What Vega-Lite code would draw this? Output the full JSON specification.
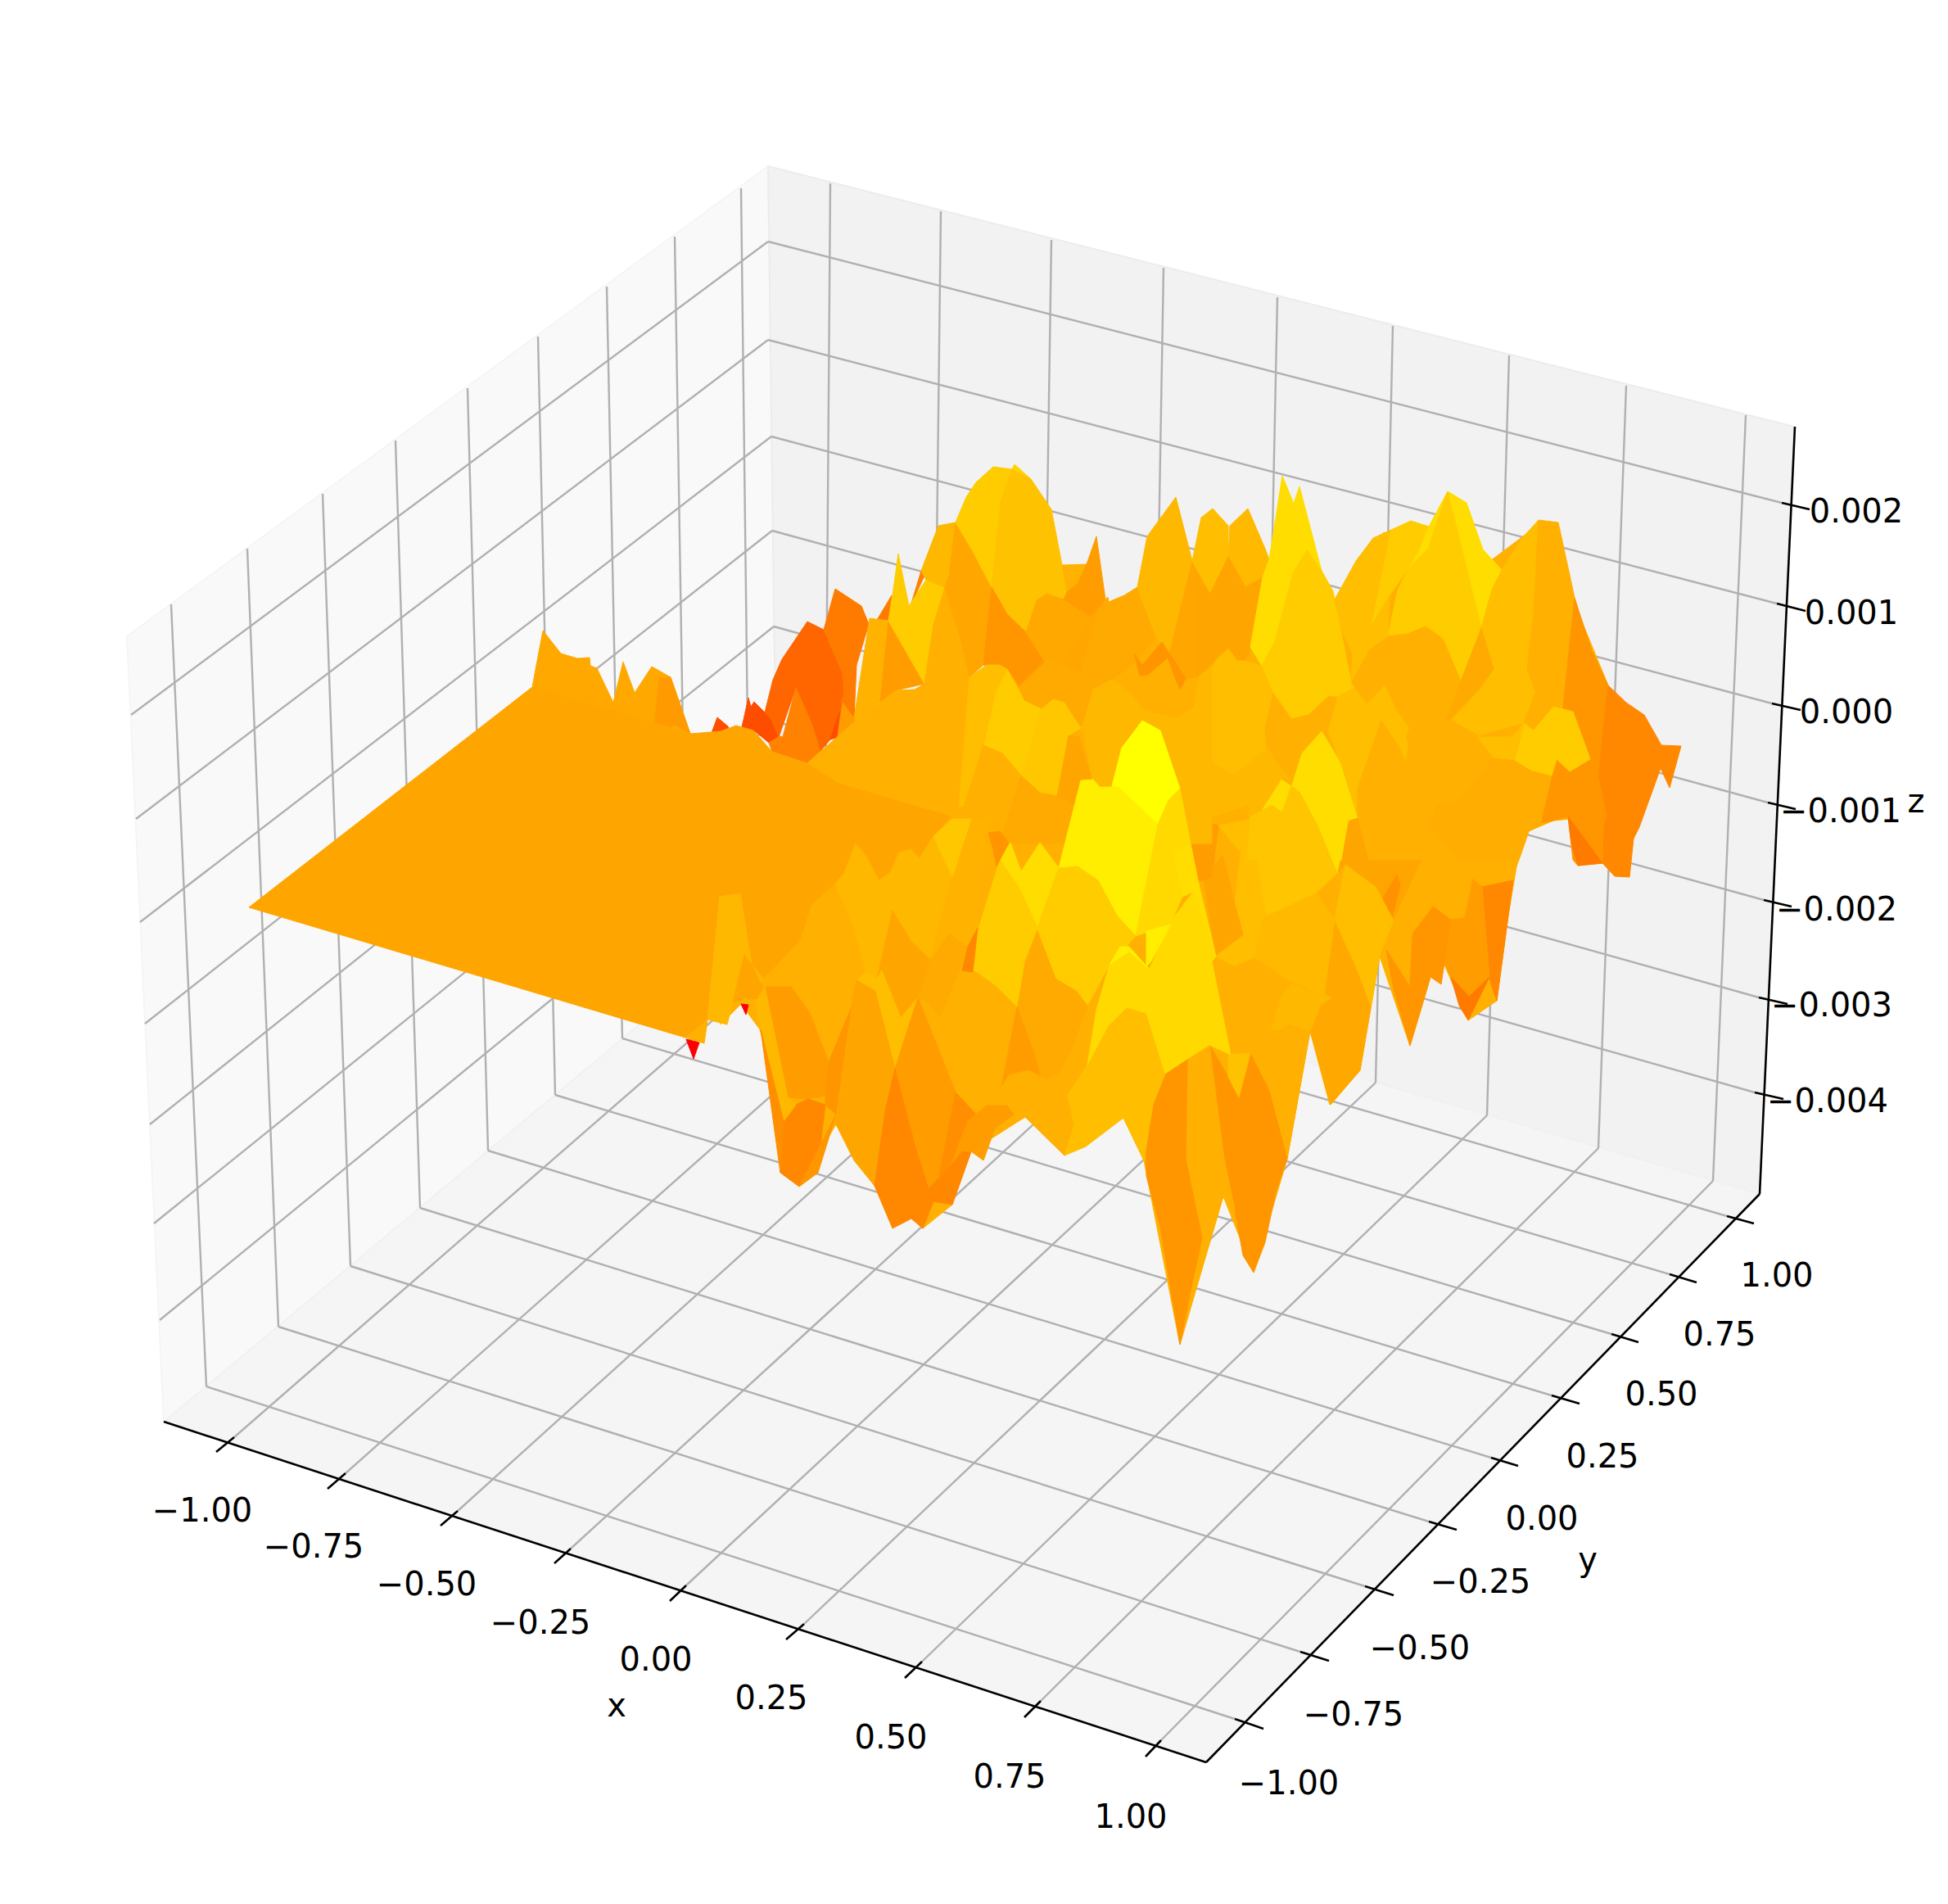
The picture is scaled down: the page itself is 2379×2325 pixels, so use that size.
{"$schema":"https://vega.github.io/schema/vega-lite/v6.json","width":2379,"height":2325,"autosize":{"type":"fit","contains":"padding"},"padding":0,"background":"white","view":{"stroke":null},
"datasets":{
"walls":[{"w":"left","c":[[155,777],[938,203],[950,1110],[200,1736]]},{"w":"back","c":[[938,203],[2191,521],[2149,1458],[950,1110]]},{"w":"floor","c":[[200,1736],[950,1110],[2149,1458],[1473,2152]]}],
"grid":[
{"px":286,"py":1755,"qx":1007,"qy":1127},{"px":422,"py":1799,"qx":1138,"qy":1164},{"px":559,"py":1845,"qx":1270,"qy":1202},{"px":697,"py":1891,"qx":1405,"qy":1242},{"px":838,"py":1936,"qx":1541,"qy":1282},{"px":982,"py":1983,"qx":1680,"qy":1322},{"px":1126,"py":2029,"qx":1816,"qy":1362},{"px":1271,"py":2077,"qx":1952,"qy":1402},{"px":1418,"py":2125,"qx":2092,"qy":1442},
{"px":1007,"py":1127,"qx":1014,"qy":224},{"px":1138,"py":1164,"qx":1149,"qy":258},{"px":1270,"py":1202,"qx":1284,"qy":293},{"px":1405,"py":1242,"qx":1421,"qy":327},{"px":1541,"py":1282,"qx":1560,"qy":363},{"px":1680,"py":1322,"qx":1701,"qy":398},{"px":1816,"py":1362,"qx":1843,"qy":434},{"px":1952,"py":1402,"qx":1986,"qy":471},{"px":2092,"py":1442,"qx":2132,"qy":507},
{"px":1508,"py":2099,"qx":252,"qy":1693},{"px":1588,"py":2017,"qx":340,"qy":1620},{"px":1667,"py":1937,"qx":428,"qy":1546},{"px":1745,"py":1858,"qx":513,"qy":1475},{"px":1821,"py":1780,"qx":596,"qy":1405},{"px":1895,"py":1704,"qx":678,"qy":1337},{"px":1968,"py":1629,"qx":760,"qy":1268},{"px":2039,"py":1556,"qx":839,"qy":1202},{"px":2109,"py":1485,"qx":916,"qy":1138},
{"px":252,"py":1693,"qx":209,"qy":738},{"px":340,"py":1620,"qx":302,"qy":670},{"px":428,"py":1546,"qx":394,"qy":603},{"px":513,"py":1475,"qx":483,"qy":538},{"px":596,"py":1405,"qx":571,"qy":474},{"px":678,"py":1337,"qx":657,"qy":411},{"px":760,"py":1268,"qx":741,"qy":350},{"px":839,"py":1202,"qx":824,"qy":289},{"px":916,"py":1138,"qx":905,"qy":230},
{"px":160,"py":873,"qx":938,"qy":295},{"px":166,"py":1000,"qx":938,"qy":415},{"px":171,"py":1126,"qx":942,"qy":533},{"px":177,"py":1250,"qx":943,"qy":648},{"px":183,"py":1373,"qx":945,"qy":765},{"px":188,"py":1494,"qx":947,"qy":881},{"px":195,"py":1612,"qx":949,"qy":995},
{"px":938,"py":295,"qx":2176,"qy":614},{"px":938,"py":415,"qx":2170,"qy":737},{"px":942,"py":533,"qx":2164,"qy":859},{"px":943,"py":648,"qx":2159,"qy":980},{"px":945,"py":765,"qx":2154,"qy":1099},{"px":947,"py":881,"qx":2148,"qy":1218},{"px":949,"py":995,"qx":2143,"qy":1334}],
"axes":[
{"px":200,"py":1736,"qx":1473,"qy":2152},{"px":1473,"py":2152,"qx":2149,"qy":1458},{"px":2149,"py":1458,"qx":2192,"qy":521},
{"px":286,"py":1755,"qx":264,"qy":1773},{"px":422,"py":1799,"qx":400,"qy":1818},{"px":559,"py":1845,"qx":538,"qy":1863},{"px":697,"py":1891,"qx":677,"qy":1909},{"px":838,"py":1936,"qx":818,"qy":1955},{"px":982,"py":1983,"qx":960,"qy":2002},{"px":1126,"py":2029,"qx":1105,"qy":2049},{"px":1271,"py":2077,"qx":1251,"qy":2097},{"px":1418,"py":2125,"qx":1399,"qy":2145},
{"px":1508,"py":2099,"qx":1543,"qy":2111},{"px":1588,"py":2017,"qx":1623,"qy":2028},{"px":1667,"py":1937,"qx":1702,"qy":1948},{"px":1745,"py":1858,"qx":1779,"qy":1868},{"px":1821,"py":1780,"qx":1854,"qy":1790},{"px":1895,"py":1704,"qx":1929,"qy":1714},{"px":1968,"py":1629,"qx":2001,"qy":1639},{"px":2039,"py":1556,"qx":2072,"qy":1566},{"px":2109,"py":1485,"qx":2142,"qy":1494},
{"px":2176,"py":614,"qx":2210,"qy":622},{"px":2170,"py":737,"qx":2205,"qy":746},{"px":2164,"py":859,"qx":2199,"qy":867},{"px":2159,"py":980,"qx":2193,"qy":988},{"px":2154,"py":1099,"qx":2188,"qy":1107},{"px":2148,"py":1218,"qx":2183,"qy":1226},{"px":2143,"py":1334,"qx":2178,"qy":1342}],
"labels":[
{"px":247,"py":1843,"t":"−1.00"},{"px":383,"py":1887,"t":"−0.75"},{"px":521,"py":1933,"t":"−0.50"},{"px":660,"py":1980,"t":"−0.25"},{"px":801,"py":2025,"t":"0.00"},{"px":942,"py":2072,"t":"0.25"},{"px":1088,"py":2120,"t":"0.50"},{"px":1233,"py":2168,"t":"0.75"},{"px":1381,"py":2217,"t":"1.00"},{"px":753,"py":2081,"t":"x"},
{"px":1574,"py":2176,"t":"−1.00"},{"px":1653,"py":2092,"t":"−0.75"},{"px":1734,"py":2011,"t":"−0.50"},{"px":1808,"py":1930,"t":"−0.25"},{"px":1883,"py":1853,"t":"0.00"},{"px":1957,"py":1777,"t":"0.25"},{"px":2029,"py":1701,"t":"0.50"},{"px":2100,"py":1628,"t":"0.75"},{"px":2170,"py":1556,"t":"1.00"},{"px":1939,"py":1903,"t":"y"},
{"px":2267,"py":623,"t":"0.002"},{"px":2261,"py":747,"t":"0.001"},{"px":2255,"py":868,"t":"0.000"},{"px":2248,"py":989,"t":"−0.001"},{"px":2243,"py":1109,"t":"−0.002"},{"px":2237,"py":1226,"t":"−0.003"},{"px":2232,"py":1343,"t":"−0.004"},{"px":2340,"py":977,"t":"z"}],
"surface":[
{"p":1,"z":0.00029,"c":[[1184,827],[1230,817],[1276,808],[1335,842],[1412,778],[1460,700],[1550,690],[1630,735],[1690,650],[1800,700],[1880,640],[1920,730],[1964,837],[1952,950],[1920,1000],[1897,1002],[1867,1015],[1852,1058],[1842,1118],[1828,1222],[1793,1246],[1764,1178],[1747,1193],[1722,1277],[1685,1168],[1661,1307],[1624,1349],[1600,1259],[1572,1415],[1531,1554],[1494,1461],[1441,1642],[1397,1417],[1372,1365],[1300,1411],[1252,1364],[1186,1406],[1163,1471],[1127,1500],[1068,1448],[1021,1373],[976,1449],[928,1257],[905,1226],[880,1251],[880,1095],[1000,950]]},
{"p":139,"z":0.00005,"c":[[1332,753],[1350,732],[1320,823],[1297,808],[1320,773]]},
{"p":140,"z":-0.0011,"c":[[1025,855],[1043,860],[1045,882],[1023,902]]},
{"p":2,"z":-0.0043,"c":[[838,1269],[854,1273],[847,1293]]},
{"p":3,"z":-0.0043,"c":[[905,1226],[914,1227],[911,1239]]},
{"p":4,"z":-0.0023,"c":[[906,888],[914,852],[917,863],[921,857],[941,877],[952,899],[939,907],[922,893]]},
{"p":5,"z":-0.0023,"c":[[869,895],[876,876],[889,887],[892,895]]},
{"p":6,"z":-0.00164,"c":[[934,870],[944,830],[955,805],[986,759],[1006,769],[1029,822],[1031,847],[1023,900],[1014,903],[1002,917],[991,883],[972,840],[951,900],[941,877]]},
{"p":7,"z":-0.0011,"c":[[1006,769],[1020,719],[1052,740],[1061,762],[1046,812],[1029,822]]},
{"p":8,"z":-0.0011,"c":[[1029,822],[1046,812],[1043,877],[1039,863],[1027,857],[1031,847]]},
{"p":9,"z":-0.0009,"c":[[972,840],[991,883],[1002,917],[986,932],[951,920],[956,900]]},
{"p":10,"z":-0.0023,"c":[[1014,903],[1025,870],[1022,900]]},
{"p":11,"z":-0.0009,"c":[[939,907],[952,899],[956,900],[951,920],[943,918]]},
{"p":12,"z":-0.0002,"c":[[1029,858],[1045,880],[1023,900]]},
{"p":13,"z":-0.0011,"c":[[1071,757],[1089,727],[1085,757]]},
{"p":14,"z":-0.0009,"c":[[1112,740],[1125,697],[1129,703]]},
{"p":15,"z":0.00035,"c":[[1062,755],[1085,758],[1075,857],[1045,880],[1043,877]]},
{"p":16,"z":-0.0002,"c":[[1085,758],[1129,835],[1094,843],[1075,858]]},
{"p":17,"z":0.00102,"c":[[1085,758],[1090,727],[1097,676],[1110,740],[1131,708],[1154,717],[1140,763],[1129,835]]},
{"p":18,"z":0.00049,"c":[[1125,697],[1146,642],[1167,638],[1159,703],[1154,717],[1131,708]]},
{"p":19,"z":0.00029,"c":[[1154,717],[1140,763],[1129,835],[1184,827],[1175,787]]},
{"p":20,"z":0.00005,"c":[[1167,638],[1188,673],[1211,717],[1201,812],[1184,827],[1175,787],[1154,717],[1159,703]]},
{"p":21,"z":0.00102,"c":[[1167,638],[1180,607],[1192,589],[1213,570],[1236,573],[1222,613],[1211,717],[1188,673]]},
{"p":22,"z":0.00125,"c":[[1236,573],[1239,567],[1259,585]]},
{"p":23,"z":0.00075,"c":[[1236,573],[1259,585],[1284,622],[1297,690],[1303,723],[1299,732],[1278,725],[1266,733],[1253,772],[1230,750],[1211,717],[1222,613]]},
{"p":24,"z":-0.00039,"c":[[1211,717],[1230,750],[1253,772],[1276,808],[1245,838],[1230,817],[1201,812]]},
{"p":25,"z":0.0001,"c":[[1278,725],[1299,732],[1332,753],[1320,773],[1297,808],[1276,808],[1253,772],[1266,733]]},
{"p":26,"z":0.00035,"c":[[1297,690],[1327,689],[1316,713],[1303,723]]},
{"p":27,"z":-0.0002,"c":[[1303,723],[1316,713],[1327,689],[1339,655],[1350,732],[1332,753],[1307,737],[1299,732]]},
{"p":28,"z":0.00013,"c":[[1350,732],[1353,729],[1354,735],[1373,727],[1389,717],[1412,778],[1381,813],[1358,830],[1335,842],[1320,823],[1339,750]]},
{"p":29,"z":0.00049,"c":[[1389,717],[1401,655],[1436,607],[1456,685],[1431,805],[1412,778]]},
{"p":30,"z":0.00005,"c":[[1456,685],[1458,687],[1480,725],[1480,813],[1465,825],[1448,830],[1441,842],[1427,803]]},
{"p":31,"z":0.00065,"c":[[1456,685],[1467,632],[1481,621],[1500,642],[1500,680],[1478,725]]},
{"p":32,"z":0.00055,"c":[[1502,642],[1524,621],[1545,670],[1550,683],[1542,705],[1521,717],[1500,680]]},
{"p":33,"z":0.0,"c":[[1460,697],[1478,725],[1500,680],[1521,717],[1542,705],[1527,793],[1521,807],[1511,807],[1500,792],[1486,805],[1460,827]]},
{"p":34,"z":0.00147,"c":[[1550,683],[1566,581],[1580,615],[1587,594],[1614,697],[1596,672],[1579,700],[1557,783],[1541,813],[1527,790],[1542,705]]},
{"p":35,"z":0.00102,"c":[[1614,697],[1628,722],[1630,732],[1650,833],[1654,840],[1634,850],[1623,850],[1598,873],[1577,878],[1555,847],[1541,813],[1557,783],[1579,700],[1596,672]]},
{"p":36,"z":0.00065,"c":[[1630,732],[1656,685],[1677,657],[1699,647],[1697,727],[1674,767],[1652,798],[1640,773]]},
{"p":37,"z":0.00102,"c":[[1699,647],[1723,636],[1745,643],[1733,673],[1721,693],[1697,727],[1675,763]]},
{"p":38,"z":0.00147,"c":[[1768,600],[1791,614],[1811,671],[1834,696],[1822,720],[1809,767]]},
{"p":39,"z":0.00147,"c":[[1745,643],[1768,600],[1744,670],[1721,693],[1733,673]]},
{"p":40,"z":0.00102,"c":[[1768,600],[1809,767],[1784,832],[1762,780],[1741,765],[1719,774],[1695,777],[1707,720],[1721,693],[1744,670]]},
{"p":41,"z":0.00029,"c":[[1695,777],[1719,774],[1741,765],[1762,780],[1784,832],[1766,880],[1721,890],[1705,867],[1691,837],[1670,860],[1651,833],[1672,793]]},
{"p":42,"z":0.00065,"c":[[1652,798],[1674,767],[1697,727],[1695,777],[1672,793],[1650,833]]},
{"p":43,"z":0.00065,"c":[[1809,767],[1822,720],[1834,696],[1859,657],[1879,635],[1873,750],[1865,817],[1875,843],[1860,883],[1806,898],[1772,878],[1806,842],[1824,817]]},
{"p":44,"z":0.00013,"c":[[1809,767],[1824,817],[1806,842],[1772,878],[1766,880],[1784,832]]},
{"p":45,"z":0.00029,"c":[[1879,635],[1903,638],[1923,730],[1911,843],[1909,865],[1897,863],[1885,878],[1875,843],[1865,817],[1873,750]]},
{"p":46,"z":-0.00039,"c":[[1923,730],[1944,795],[1964,837],[1952,950],[1940,927],[1921,870],[1909,865],[1911,843]]},
{"p":47,"z":-0.00075,"c":[[1964,837],[1986,858],[2008,873],[2029,910],[2053,911],[2039,962],[2028,938],[2002,1010],[1995,1024],[1990,1071],[1972,1070],[1957,1054],[1958,1007],[1952,950]]},
{"p":48,"z":-0.00039,"c":[[1895,947],[1901,927],[1917,942],[1940,927],[1952,950],[1962,997],[1958,1007],[1957,1054],[1927,1057],[1921,1050],[1915,997],[1897,1002],[1881,1005]]},
{"p":49,"z":-0.0011,"c":[[1915,997],[1957,1054],[1927,1057],[1919,1030]]},
{"p":50,"z":0.00029,"c":[[1753,1000],[1867,1000],[1852,1058],[1848,1075],[1810,1081],[1798,1073],[1753,1015]]},
{"p":51,"z":0.0,"c":[[1647,1000],[1753,1000],[1753,1015],[1702,1124],[1680,1083],[1643,1056],[1633,1066]]},
{"p":52,"z":0.00147,"c":[[1605,1000],[1647,1000],[1633,1066]]},
{"p":53,"z":0.00085,"c":[[1527,1000],[1605,1000],[1633,1066],[1607,1091],[1558,1114],[1545,1118]]},
{"p":54,"z":0.00065,"c":[[1488,1008],[1527,1000],[1545,1118],[1532,1170],[1508,1180],[1485,1168],[1518,1143],[1508,1104],[1515,1041]]},
{"p":55,"z":0.0,"c":[[1470,1075],[1493,1044],[1508,1104],[1518,1141],[1485,1166]]},
{"p":56,"z":-0.0002,"c":[[1448,1000],[1488,1008],[1480,1071],[1468,1075],[1463,1075]]},
{"p":57,"z":0.00147,"c":[[1431,1000],[1448,1000],[1463,1075],[1485,1168],[1457,1089],[1444,1095],[1431,1041]]},
{"p":58,"z":-0.00075,"c":[[1810,1083],[1848,1075],[1842,1118],[1828,1222],[1820,1199]]},
{"p":59,"z":-0.0002,"c":[[1772,1122],[1788,1120],[1798,1073],[1810,1083],[1819,1193],[1794,1217],[1772,1193],[1764,1176]]},
{"p":60,"z":-0.0011,"c":[[1772,1193],[1794,1217],[1819,1193],[1793,1246],[1782,1228]]},
{"p":61,"z":-0.00039,"c":[[1693,1160],[1722,1205],[1725,1139],[1750,1106],[1772,1122],[1764,1176],[1760,1202],[1747,1193],[1722,1277],[1702,1208]]},
{"p":62,"z":0.00029,"c":[[1702,1124],[1753,1015],[1798,1073],[1788,1120],[1772,1122],[1750,1106],[1725,1139],[1715,1178]]},
{"p":63,"z":-0.0005,"c":[[1687,1100],[1706,1068],[1710,1081],[1700,1120]]},
{"p":64,"z":0.00065,"c":[[1630,1122],[1638,1081],[1643,1056],[1680,1083],[1702,1124],[1685,1166],[1674,1230],[1653,1175]]},
{"p":65,"z":0.0001,"c":[[1630,1127],[1653,1175],[1674,1230],[1661,1307],[1625,1349],[1600,1259],[1617,1216]]},
{"p":66,"z":0.00055,"c":[[1532,1170],[1543,1120],[1558,1114],[1607,1091],[1630,1122],[1617,1216],[1590,1203],[1577,1199]]},
{"p":67,"z":0.00029,"c":[[1480,1174],[1508,1180],[1532,1170],[1577,1201],[1563,1220],[1553,1257],[1527,1286],[1503,1288],[1488,1224]]},
{"p":68,"z":0.00049,"c":[[1563,1220],[1577,1201],[1627,1218],[1613,1227],[1600,1259],[1553,1257]]},
{"p":69,"z":0.00029,"c":[[1527,1286],[1573,1251],[1600,1259],[1572,1415],[1550,1332]]},
{"p":70,"z":-0.00039,"c":[[1527,1286],[1550,1332],[1572,1415],[1558,1456],[1545,1517],[1531,1554],[1518,1533],[1508,1477],[1495,1415],[1477,1276],[1500,1315],[1513,1340]]},
{"p":71,"z":0.00075,"c":[[1500,1288],[1527,1286],[1513,1340],[1500,1315]]},
{"p":72,"z":0.00029,"c":[[1450,1293],[1477,1276],[1495,1415],[1508,1477],[1494,1461],[1482,1475],[1468,1512],[1448,1415]]},
{"p":73,"z":-0.00039,"c":[[1423,1311],[1435,1295],[1450,1293],[1448,1415],[1468,1512],[1455,1571],[1441,1642],[1424,1539],[1417,1498],[1400,1436],[1400,1394],[1410,1344]]},
{"p":74,"z":0.00065,"c":[[1460,850],[1486,805],[1500,792],[1511,807],[1521,807],[1539,813],[1555,847],[1577,878],[1547,890],[1549,913],[1507,947],[1482,932],[1466,913],[1460,890]]},
{"p":75,"z":0.00029,"c":[[1555,847],[1577,878],[1598,873],[1623,850],[1633,852],[1622,893],[1614,893],[1590,920],[1577,953],[1555,927],[1547,913],[1545,890]]},
{"p":76,"z":0.00049,"c":[[1507,947],[1549,913],[1555,927],[1577,953],[1565,950],[1541,990],[1523,997],[1527,983],[1480,997],[1460,987],[1460,890],[1482,932]]},
{"p":77,"z":0.00147,"c":[[1614,893],[1638,933],[1658,998],[1646,1002],[1638,1050],[1626,1050],[1610,1010],[1587,967],[1577,962],[1590,920]]},
{"p":78,"z":0.00147,"c":[[1565,952],[1577,960],[1566,992],[1553,983],[1541,990]]},
{"p":79,"z":0.00085,"c":[[1541,990],[1553,983],[1566,992],[1577,960],[1587,967],[1610,1010],[1626,1050],[1523,1050],[1527,997]]},
{"p":80,"z":0.00065,"c":[[1634,850],[1654,840],[1669,860],[1691,837],[1705,867],[1721,890],[1717,930],[1707,910],[1687,880],[1658,963],[1658,997],[1638,933],[1622,893]]},
{"p":81,"z":0.00029,"c":[[1658,963],[1687,880],[1707,910],[1717,930],[1737,912],[1755,983],[1745,1013],[1753,1013],[1780,1050],[1672,1050],[1658,997]]},
{"p":82,"z":0.00029,"c":[[1721,890],[1760,878],[1772,887],[1804,900],[1847,900],[1824,927],[1800,957],[1776,982],[1755,983],[1737,912],[1717,903]]},
{"p":83,"z":0.0002,"c":[[1776,982],[1800,957],[1824,925],[1850,928],[1869,940],[1895,947],[1881,1007],[1867,1015],[1855,1050],[1780,1050],[1753,1013],[1745,1012],[1755,983]]},
{"p":84,"z":0.00102,"c":[[1850,928],[1861,883],[1873,892],[1897,863],[1921,869],[1942,927],[1917,942],[1901,927],[1895,947],[1869,940]]},
{"p":85,"z":0.00065,"c":[[1824,925],[1850,928],[1861,883],[1846,900],[1804,900]]},
{"p":86,"z":0.00012,"c":[[650,839],[663,770],[685,798],[705,804],[720,803],[721,813],[729,816],[749,858],[761,808],[775,846],[796,814],[819,827],[843,896],[800,900],[700,870]]},
{"p":87,"z":-0.00025,"c":[[805,828],[819,827],[843,896],[824,885],[808,896],[798,895]]},
{"p":88,"z":0.00029,"c":[[986,932],[1045,880],[1075,858],[1094,843],[1117,842],[1129,835],[1184,827],[1175,963],[1171,985],[1161,997],[1024,957]]},
{"p":89,"z":0.00102,"c":[[1230,817],[1251,855],[1272,865],[1253,932],[1247,947],[1224,920],[1201,910],[1215,847]]},
{"p":90,"z":0.00065,"c":[[1184,827],[1205,812],[1221,812],[1230,817],[1215,847],[1201,910],[1177,985],[1171,985]]},
{"p":91,"z":0.00089,"c":[[1272,865],[1286,853],[1300,857],[1322,888],[1305,898],[1291,972],[1270,968],[1247,947],[1253,932]]},
{"p":92,"z":0.00029,"c":[[1177,985],[1201,910],[1224,920],[1247,947],[1221,1030],[1178,1030]]},
{"p":93,"z":0.00013,"c":[[1247,947],[1270,968],[1291,972],[1314,983],[1305,1030],[1221,1030]]},
{"p":94,"z":0.0,"c":[[1305,898],[1318,900],[1335,957],[1320,953],[1312,983],[1291,972]]},
{"p":95,"z":0.00013,"c":[[1245,838],[1276,808],[1297,808],[1320,823],[1335,842],[1320,888],[1300,857],[1286,853],[1272,865],[1251,855]]},
{"p":96,"z":0.00049,"c":[[1335,842],[1358,830],[1381,847],[1397,868],[1374,903],[1358,960],[1335,957],[1322,888]]},
{"p":97,"z":0.00049,"c":[[1397,868],[1437,877],[1458,863],[1465,825],[1480,813],[1480,1030],[1454,1030],[1441,963],[1417,892],[1395,880],[1374,903]]},
{"p":98,"z":-0.00039,"c":[[1385,798],[1395,812],[1419,784],[1448,828],[1441,842],[1426,803],[1402,824],[1392,825]]},
{"p":99,"z":0.00235,"c":[[1395,880],[1417,892],[1441,963],[1414,1007],[1358,960],[1370,913]]},
{"p":100,"z":0.0019,"c":[[1320,953],[1335,952],[1343,961],[1366,961],[1414,1007],[1387,1143],[1364,1118],[1341,1075],[1316,1058],[1293,1060]]},
{"p":101,"z":0.00135,"c":[[1427,977],[1441,963],[1454,1030],[1431,1041],[1444,1095],[1429,1129],[1406,1137],[1387,1143],[1414,1007]]},
{"p":102,"z":0.0,"c":[[304,1108],[650,839],[843,896],[880,893],[899,886],[920,892],[943,918],[986,932],[1024,957],[1161,997],[1140,1021],[1123,1048],[1112,1037],[1098,1041],[1087,1066],[1073,1075],[1058,1046],[1045,1030],[1031,1066],[1020,1079],[991,1106],[978,1147],[932,1195],[918,1178],[904,1091],[879,1095],[864,1245],[837,1267]]},
{"p":103,"z":0.00147,"c":[[1221,1050],[1234,1029],[1247,1064],[1270,1029],[1293,1060],[1267,1133],[1245,1085]]},
{"p":104,"z":0.00102,"c":[[1221,1050],[1245,1085],[1267,1133],[1251,1174],[1242,1230],[1217,1205],[1192,1187],[1188,1187],[1194,1137]]},
{"p":105,"z":0.00102,"c":[[1267,1133],[1293,1060],[1316,1058],[1341,1075],[1364,1118],[1387,1143],[1355,1178],[1328,1228],[1314,1210],[1289,1195],[1267,1137]]},
{"p":106,"z":0.00013,"c":[[1267,1137],[1289,1195],[1314,1210],[1328,1228],[1305,1290],[1291,1311],[1280,1317],[1270,1313],[1263,1286],[1242,1232],[1253,1176]]},
{"p":107,"z":0.00029,"c":[[1192,1187],[1217,1205],[1242,1230],[1223,1328],[1205,1349],[1192,1361],[1167,1334],[1150,1292],[1121,1218],[1133,1224],[1148,1241],[1171,1185]]},
{"p":108,"z":-0.0002,"c":[[1242,1230],[1263,1286],[1270,1313],[1257,1307],[1232,1313],[1223,1328]]},
{"p":109,"z":0.00029,"c":[[1205,1349],[1223,1328],[1232,1313],[1257,1307],[1303,1338],[1312,1373],[1300,1411],[1253,1364],[1238,1361],[1230,1349]]},
{"p":110,"z":0.00065,"c":[[1303,1338],[1328,1300],[1353,1253],[1376,1230],[1400,1237],[1423,1311],[1408,1349],[1397,1417],[1372,1365],[1326,1400],[1300,1411],[1312,1373]]},
{"p":111,"z":0.00135,"c":[[1328,1300],[1339,1233],[1355,1178],[1379,1162],[1404,1183],[1427,1129],[1457,1089],[1485,1168],[1480,1174],[1503,1288],[1477,1276],[1450,1293],[1423,1311],[1400,1237],[1376,1230],[1353,1253]]},
{"p":112,"z":0.0019,"c":[[1355,1178],[1368,1156],[1379,1156],[1403,1183],[1379,1162]]},
{"p":113,"z":0.0019,"c":[[1400,1180],[1405,1175],[1430,1129],[1400,1137]]},
{"p":114,"z":0.00029,"c":[[934,1199],[978,1147],[991,1106],[1020,1079],[1041,1129],[1058,1187],[1046,1197],[1039,1232],[1012,1297],[989,1236],[964,1205],[937,1205]]},
{"p":115,"z":0.00049,"c":[[1020,1079],[1031,1066],[1045,1030],[1058,1046],[1073,1075],[1090,1112],[1071,1195],[1058,1187],[1041,1129]]},
{"p":116,"z":0.00049,"c":[[1073,1075],[1087,1066],[1098,1041],[1112,1037],[1123,1048],[1140,1021],[1163,1071],[1136,1172],[1113,1150],[1090,1112]]},
{"p":117,"z":0.0,"c":[[1090,1112],[1113,1150],[1136,1172],[1121,1218],[1100,1243],[1077,1183],[1071,1195]]},
{"p":118,"z":0.00013,"c":[[1136,1172],[1159,1139],[1182,1156],[1171,1185],[1148,1241],[1133,1224],[1121,1218]]},
{"p":119,"z":0.00035,"c":[[1163,1071],[1180,1000],[1205,1000],[1194,1133],[1182,1156],[1159,1139],[1136,1172]]},
{"p":120,"z":0.00089,"c":[[1140,1021],[1163,1000],[1186,1000],[1163,1071]]},
{"p":121,"z":-0.00039,"c":[[1207,1017],[1221,1015],[1232,1029],[1217,1058],[1213,1037]]},
{"p":122,"z":-0.00075,"c":[[1182,1156],[1194,1133],[1188,1187],[1175,1185]]},
{"p":123,"z":0.00065,"c":[[1046,1197],[1058,1187],[1071,1195],[1077,1185],[1100,1243],[1121,1218],[1093,1305],[1069,1210]]},
{"p":124,"z":0.0,"c":[[1039,1232],[1046,1197],[1069,1210],[1093,1305],[1068,1448],[1043,1417],[1021,1373],[1037,1257]]},
{"p":125,"z":-0.0002,"c":[[1121,1218],[1167,1334],[1192,1361],[1161,1423],[1134,1452],[1117,1398],[1093,1305]]},
{"p":126,"z":-0.00075,"c":[[1093,1305],[1117,1398],[1134,1452],[1127,1500],[1113,1488],[1090,1500],[1068,1448],[1081,1357]]},
{"p":127,"z":-0.00075,"c":[[1134,1452],[1161,1423],[1175,1405],[1186,1406],[1163,1471],[1140,1467],[1127,1500]]},
{"p":128,"z":-0.0006,"c":[[1167,1334],[1192,1361],[1182,1369],[1161,1423],[1146,1440]]},
{"p":129,"z":-0.0002,"c":[[1182,1369],[1205,1350],[1230,1350],[1238,1361],[1215,1378],[1201,1417],[1186,1406],[1175,1405],[1161,1423]]},
{"p":130,"z":-0.0002,"c":[[935,1205],[966,1205],[989,1237],[1012,1297],[1008,1338],[987,1342],[962,1340]]},
{"p":131,"z":-0.00075,"c":[[957,1369],[972,1349],[987,1342],[1008,1349],[1002,1398],[976,1449],[953,1432]]},
{"p":132,"z":-0.00039,"c":[[976,1449],[1002,1398],[1021,1361],[999,1432]]},
{"p":133,"z":0.00049,"c":[[922,1220],[934,1205],[962,1340],[972,1349],[957,1369],[937,1299]]},
{"p":134,"z":-0.0006,"c":[[929,1257],[957,1369],[953,1432]]},
{"p":135,"z":-0.00039,"c":[[1012,1297],[1039,1232],[1021,1361],[1008,1349],[1008,1338]]},
{"p":136,"z":0.00049,"c":[[864,1245],[879,1095],[904,1091],[918,1178],[932,1195],[922,1220],[912,1218],[895,1224],[888,1251]]},
{"p":137,"z":0.0,"c":[[909,1166],[918,1178],[932,1207],[924,1220],[912,1218],[895,1224]]},
{"p":138,"z":0.00029,"c":[[837,1267],[864,1246],[860,1274]]}
]},
"encoding":{"x":{"field":"px","type":"quantitative","axis":null,"scale":{"domain":[0,2379],"nice":false,"zero":false}},"y":{"field":"py","type":"quantitative","axis":null,"scale":{"domain":[2325,0],"nice":false,"zero":false}}},
"layer":[
{"data":{"name":"walls"},"transform":[{"flatten":["c"]},{"window":[{"op":"row_number","as":"i"}]},{"calculate":"datum.c[0]","as":"px"},{"calculate":"datum.c[1]","as":"py"}],"mark":{"type":"line","interpolate":"linear-closed","strokeWidth":2},"encoding":{"detail":{"field":"w"},"order":{"field":"i"},"fill":{"field":"w","type":"nominal","legend":null,"scale":{"domain":["left","back","floor"],"range":["#f9f9f9","#f2f2f2","#f5f5f5"]}},"stroke":{"field":"w","type":"nominal","legend":null,"scale":{"domain":["left","back","floor"],"range":["#f5f5f5","#ececec","#f1f1f1"]}}}},
{"data":{"name":"grid"},"mark":{"type":"rule","color":"#b0b0b0","strokeWidth":2.4},"encoding":{"x2":{"field":"qx"},"y2":{"field":"qy"}}},
{"data":{"name":"axes"},"mark":{"type":"rule","color":"#000000","strokeWidth":2.6},"encoding":{"x2":{"field":"qx"},"y2":{"field":"qy"}}},
{"data":{"name":"surface"},"transform":[{"flatten":["c"]},{"window":[{"op":"row_number","as":"i"}]},{"calculate":"datum.c[0]","as":"px"},{"calculate":"datum.c[1]","as":"py"}],"mark":{"type":"line","interpolate":"linear-closed","strokeWidth":1},"encoding":{"detail":{"field":"p"},"order":{"field":"i"},"fill":{"field":"z","type":"quantitative","legend":null,"scale":{"domain":[-0.0043,0.00235],"range":["#ff0000","#ffff00"],"interpolate":"rgb"}},"stroke":{"field":"z","type":"quantitative","legend":null,"scale":{"domain":[-0.0043,0.00235],"range":["#ff0000","#ffff00"],"interpolate":"rgb"}}}},
{"data":{"name":"labels"},"mark":{"type":"text","font":"DejaVu Sans","fontSize":40,"color":"#000000","align":"center","baseline":"middle","dy":3},"encoding":{"text":{"field":"t"}}}
],
"resolve":{"scale":{"fill":"independent","stroke":"independent"}}}
